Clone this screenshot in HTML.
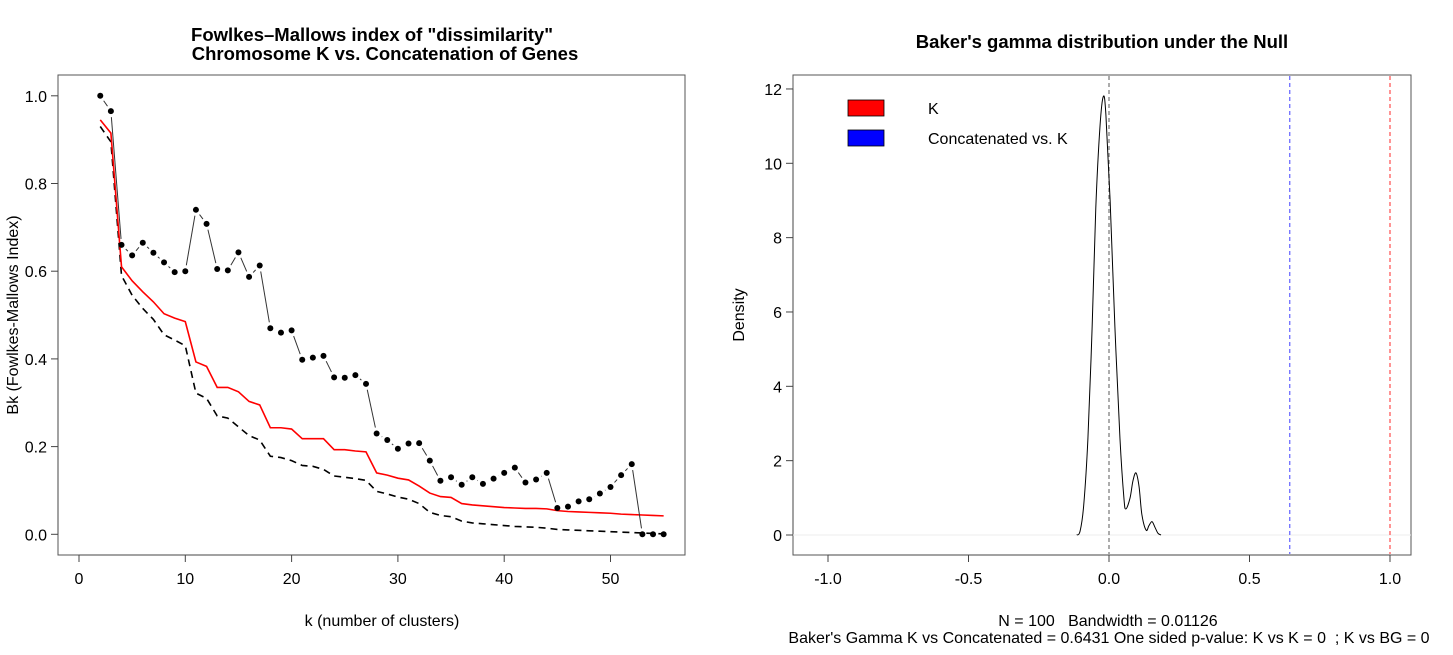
<!DOCTYPE html>
<html><head><meta charset="utf-8">
<style>
body{margin:0;background:#fff;}
svg text{font-family:"Liberation Sans",Arial,sans-serif;fill:#000;}
</style></head>
<body>
<svg id="c" width="1453" height="650" xmlns="http://www.w3.org/2000/svg">
</svg>
<script>
// Left chart data
const ks = [2,3,4,5,6,7,8,9,10,11,12,13,14,15,16,17,18,19,20,21,22,23,24,25,26,27,28,29,30,31,32,33,34,35,36,37,38,39,40,41,42,43,44,45,46,47,48,49,50,51,52,53,54,55];
const bkObserved = [1.00,0.965,0.66,0.636,0.665,0.642,0.62,0.598,0.60,0.74,0.708,0.605,0.602,0.643,0.587,0.613,0.47,0.46,0.465,0.398,0.403,0.407,0.358,0.357,0.363,0.343,0.23,0.215,0.195,0.207,0.208,0.168,0.122,0.13,0.113,0.13,0.115,0.127,0.14,0.152,0.118,0.125,0.14,0.06,0.063,0.075,0.08,0.093,0.108,0.135,0.16,0,0,0];
const bkRed = [0.945,0.915,0.61,0.578,0.553,0.53,0.503,0.493,0.485,0.393,0.383,0.335,0.335,0.325,0.303,0.295,0.243,0.243,0.24,0.218,0.218,0.218,0.193,0.193,0.19,0.188,0.14,0.135,0.128,0.124,0.11,0.094,0.086,0.084,0.07,0.067,0.065,0.063,0.061,0.06,0.059,0.059,0.058,0.054,0.052,0.051,0.05,0.049,0.048,0.046,0.045,0.044,0.043,0.042];
const bkDashed = [0.93,0.895,0.59,0.545,0.515,0.49,0.455,0.443,0.43,0.322,0.31,0.27,0.265,0.245,0.225,0.215,0.178,0.175,0.168,0.157,0.155,0.148,0.133,0.13,0.127,0.123,0.098,0.092,0.085,0.08,0.07,0.05,0.043,0.04,0.03,0.026,0.024,0.022,0.02,0.018,0.017,0.016,0.014,0.011,0.01,0.009,0.008,0.007,0.006,0.005,0.004,0.003,0.002,0.001];
const leftXTicks = [0,10,20,30,40,50];
const leftYTicks = [0.0,0.2,0.4,0.6,0.8,1.0];
// Right chart data
const densX = [-0.115,-0.103,-0.09,-0.075,-0.06,-0.047,-0.032,-0.02,-0.011,0.004,0.021,0.039,0.053,0.06,0.075,0.085,0.096,0.107,0.117,0.132,0.142,0.153,0.164,0.174,0.185];
const densY = [0,0.1,0.8,2.6,5.6,8.8,11.0,11.8,11.3,9.0,5.6,2.6,1.0,0.7,1.0,1.45,1.67,1.3,0.55,0.13,0.25,0.36,0.2,0.05,0];
const rightXTicks = [-1.0,-0.5,0.0,0.5,1.0];
const rightYTicks = [0,2,4,6,8,10,12];
const refLines = [0, 0.6431, 1.0];
const refColors = ['#888','#77f','#f66'];

const svg = document.getElementById('c');
const NS = 'http://www.w3.org/2000/svg';
function mk(tag, attrs, parent){const e=document.createElementNS(NS,tag);for(const k in attrs)e.setAttribute(k,attrs[k]);(parent||svg).appendChild(e);return e;}
function txt(s, attrs, parent){const e=mk('text',attrs,parent);e.textContent=s;return e;}

// ---------- Left chart ----------
const lx = v => 79 + v*10.63;
const ly = v => 534.3 - v*438.5;
const L = mk('g',{});


let r = mk('rect',{x:58,y:75,width:627,height:480,fill:'none',stroke:'#555','stroke-width':1},L);
 
let t = txt('Fowlkes–Mallows index of "dissimilarity"',{x:372,y:41,'text-anchor':'middle','font-size':18.5,'font-weight':'bold'},L);
 
t = txt('Chromosome K vs. Concatenation of Genes',{x:385,y:60,'text-anchor':'middle','font-size':18.5,'font-weight':'bold'},L);
 
t = txt('k (number of clusters)',{x:382,y:626,'text-anchor':'middle','font-size':16},L);
 
t = txt('Bk (Fowlkes-Mallows Index)',{x:0,y:0,'text-anchor':'middle','font-size':16,transform:'translate(18,315) rotate(-90)'},L);
 
mk('line',{x1:lx(0),x2:lx(50),y1:555,y2:555,stroke:'#444'},L);
leftXTicks.forEach(v=>{
  mk('line',{x1:lx(v),x2:lx(v),y1:555,y2:562,stroke:'#444'},L);
  const e=txt(String(v),{x:lx(v),y:584,'text-anchor':'middle','font-size':16},L);
   
});
mk('line',{x1:58,x2:58,y1:ly(0),y2:ly(1),stroke:'#444'},L);
leftYTicks.forEach(v=>{
  mk('line',{x1:51,x2:58,y1:ly(v),y2:ly(v),stroke:'#444'},L);
  const e=txt(v.toFixed(1),{x:47,y:ly(v)+6,'text-anchor':'end','font-size':16},L);
   
});
let p = mk('polyline',{points:ks.map((k,i)=>lx(k)+','+ly(bkDashed[i])).join(' '),fill:'none',stroke:'#000','stroke-width':1.6,'stroke-dasharray':'7,5'},L);
 
p = mk('polyline',{points:ks.map((k,i)=>lx(k)+','+ly(bkRed[i])).join(' '),fill:'none',stroke:'#f00','stroke-width':1.6},L);
 
for(let i=0;i<ks.length-1;i++){
  const x1=lx(ks[i]),y1=ly(bkObserved[i]),x2=lx(ks[i+1]),y2=ly(bkObserved[i+1]);
  const d=Math.hypot(x2-x1,y2-y1), g=6;
  if(d>2*g){const ux=(x2-x1)/d,uy=(y2-y1)/d;
    mk('line',{x1:x1+ux*g,y1:y1+uy*g,x2:x2-ux*g,y2:y2-uy*g,stroke:'#333','stroke-width':1},L);}
}
ks.forEach((k,i)=>{
  const c=mk('circle',{cx:lx(k),cy:ly(bkObserved[i]),r:3,fill:'#000'},L);
   
});

// ---------- Right chart ----------
const rx = v => 1109 + v*281;
const ry = v => 535 - v*37.17;
const R = mk('g',{});


r = mk('rect',{x:793,y:75,width:618,height:480,fill:'none',stroke:'#555','stroke-width':1},R);
 
t = txt("Baker's gamma distribution under the Null",{x:1102,y:48,'text-anchor':'middle','font-size':18.5,'font-weight':'bold'},R);
 
t = txt('N = 100\u00A0\u00A0\u00A0Bandwidth = 0.01126',{x:1108,y:626,'text-anchor':'middle','font-size':16},R);
 
t = txt("Baker's Gamma K vs Concatenated = 0.6431 One sided p-value: K vs K = 0\u00A0\u00A0; K vs BG = 0",{x:1109,y:643,'text-anchor':'middle','font-size':16},R);
 
t = txt('Density',{x:0,y:0,'text-anchor':'middle','font-size':16,transform:'translate(744,315) rotate(-90)'},R);
 
mk('line',{x1:rx(-1),x2:rx(1),y1:555,y2:555,stroke:'#444'},R);
rightXTicks.forEach(v=>{
  mk('line',{x1:rx(v),x2:rx(v),y1:555,y2:562,stroke:'#444'},R);
  const e=txt(v.toFixed(1),{x:rx(v),y:584,'text-anchor':'middle','font-size':16},R);
   
});
mk('line',{x1:793,x2:793,y1:ry(0),y2:ry(12),stroke:'#444'},R);
rightYTicks.forEach(v=>{
  mk('line',{x1:786,x2:793,y1:ry(v),y2:ry(v),stroke:'#444'},R);
  const e=txt(String(v),{x:782,y:ry(v)+6,'text-anchor':'end','font-size':16},R);
   
});
mk('line',{x1:793,x2:1411,y1:ry(0),y2:ry(0),stroke:'#eee'},R);
refLines.forEach((v,i)=>{
  const e=mk('line',{x1:rx(v),x2:rx(v),y1:76,y2:554,stroke:refColors[i],'stroke-width':1.4,'stroke-dasharray':'4,3'},R);
   
});
const pts = densX.map((x,i)=>[rx(x),ry(densY[i])]);
let d = 'M'+pts[0][0]+','+pts[0][1];
for(let i=0;i<pts.length-1;i++){
  const p0=pts[Math.max(0,i-1)],p1=pts[i],p2=pts[i+1],p3=pts[Math.min(pts.length-1,i+2)];
  const c1x=p1[0]+(p2[0]-p0[0])/6,c1y=p1[1]+(p2[1]-p0[1])/6,c2x=p2[0]-(p3[0]-p1[0])/6,c2y=p2[1]-(p3[1]-p1[1])/6;
  d+=` C${c1x},${c1y} ${c2x},${c2y} ${p2[0]},${p2[1]}`;
}
p = mk('path',{d:d,fill:'none',stroke:'#000','stroke-width':1},R);
 
const lg = mk('g',{},R);
 
let e = mk('rect',{x:848,y:100,width:36,height:16,fill:'#f00',stroke:'#000','stroke-width':0.8},lg);
 
e = txt('K',{x:928,y:114,'font-size':16},lg);
 
e = mk('rect',{x:848,y:130,width:36,height:16,fill:'#00f',stroke:'#000','stroke-width':0.8},lg);
 
e = txt('Concatenated vs. K',{x:928,y:144,'font-size':16},lg);
 
</script>
</body></html>
